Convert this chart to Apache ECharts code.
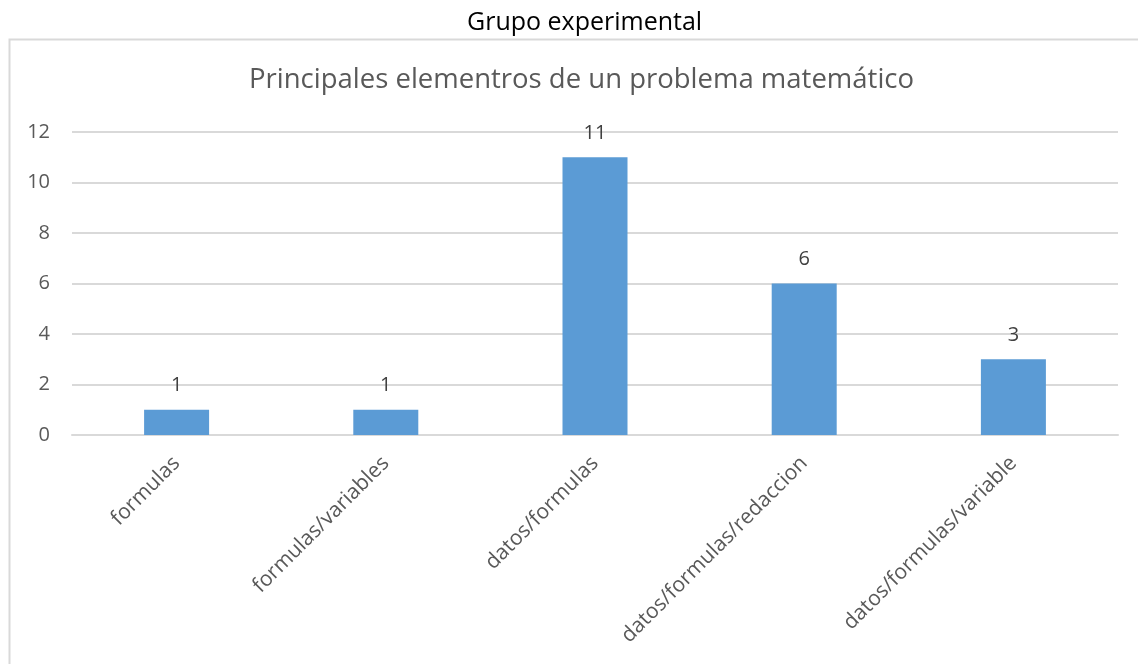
<!DOCTYPE html>
<html>
<head>
<meta charset="utf-8">
<script src="https://cdn.jsdelivr.net/npm/echarts@6/dist/echarts.min.js"></script>
<style>
  html, body { margin: 0; padding: 0; background: #fff; }
  #chart { width: 1138px; height: 664px; }
</style>
</head>
<body>
<div id="chart"></div>
<script>
// datos del grafico
var categorias = ['formulas', 'formulas/variables', 'datos/formulas', 'datos/formulas/redaccion', 'datos/formulas/variable'];
var valores = [1, 1, 11, 6, 3];
var ticksY = [0, 2, 4, 6, 8, 10, 12];

var myChart = echarts.init(document.getElementById('chart'));
var fuente = '"Open Sans", "Noto Sans", sans-serif';

var option = {
	animation: false,
	textStyle: { fontFamily: fuente },
	title: [{
		text: 'Grupo experimental',
		left: 462,
		top: 5,
		textStyle: { fontSize: 25, fontWeight: 'normal', color: '#000', fontFamily: fuente }
	}, {
		text: 'Principales elementros de un problema matemático',
		left: 244,
		top: 61,
		textStyle: { fontSize: 27.5, fontWeight: 'normal', color: '#595959', fontFamily: fuente }
	}],
	graphic: [{
		type: 'rect',
		shape: { x: 9.5, y: 39.5, width: 1300, height: 800 },
		style: { fill: 'none', stroke: '#d9d9d9', lineWidth: 2 },
		silent: true
	}],
	grid: { left: 72, right: 20, top: 132, bottom: 229 },
	xAxis: {
		type: 'category',
		data: categorias,
		axisLine: { lineStyle: { color: '#d9d9d9', width: 2 } },
		axisTick: { show: false },
		axisLabel: { rotate: 45, color: '#595959', fontSize: 21, margin: 25, interval: 0, fontFamily: fuente }
	},
	yAxis: {
		type: 'value',
		min: ticksY[0],
		max: ticksY[ticksY.length - 1],
		interval: 2,
		axisLine: { show: false },
		axisTick: { show: false },
		splitLine: { lineStyle: { color: '#d9d9d9', width: 2 } },
		axisLabel: { color: '#595959', fontSize: 20, margin: 22, fontFamily: fuente }
	},
	series: [{
		type: 'bar',
		data: valores,
		barWidth: 65,
		itemStyle: { color: '#5b9bd5' },
		label: { show: true, position: 'top', distance: 14, color: '#404040', fontSize: 20, fontFamily: fuente }
	}]
};
myChart.setOption(option);
</script>
</body>
</html>
